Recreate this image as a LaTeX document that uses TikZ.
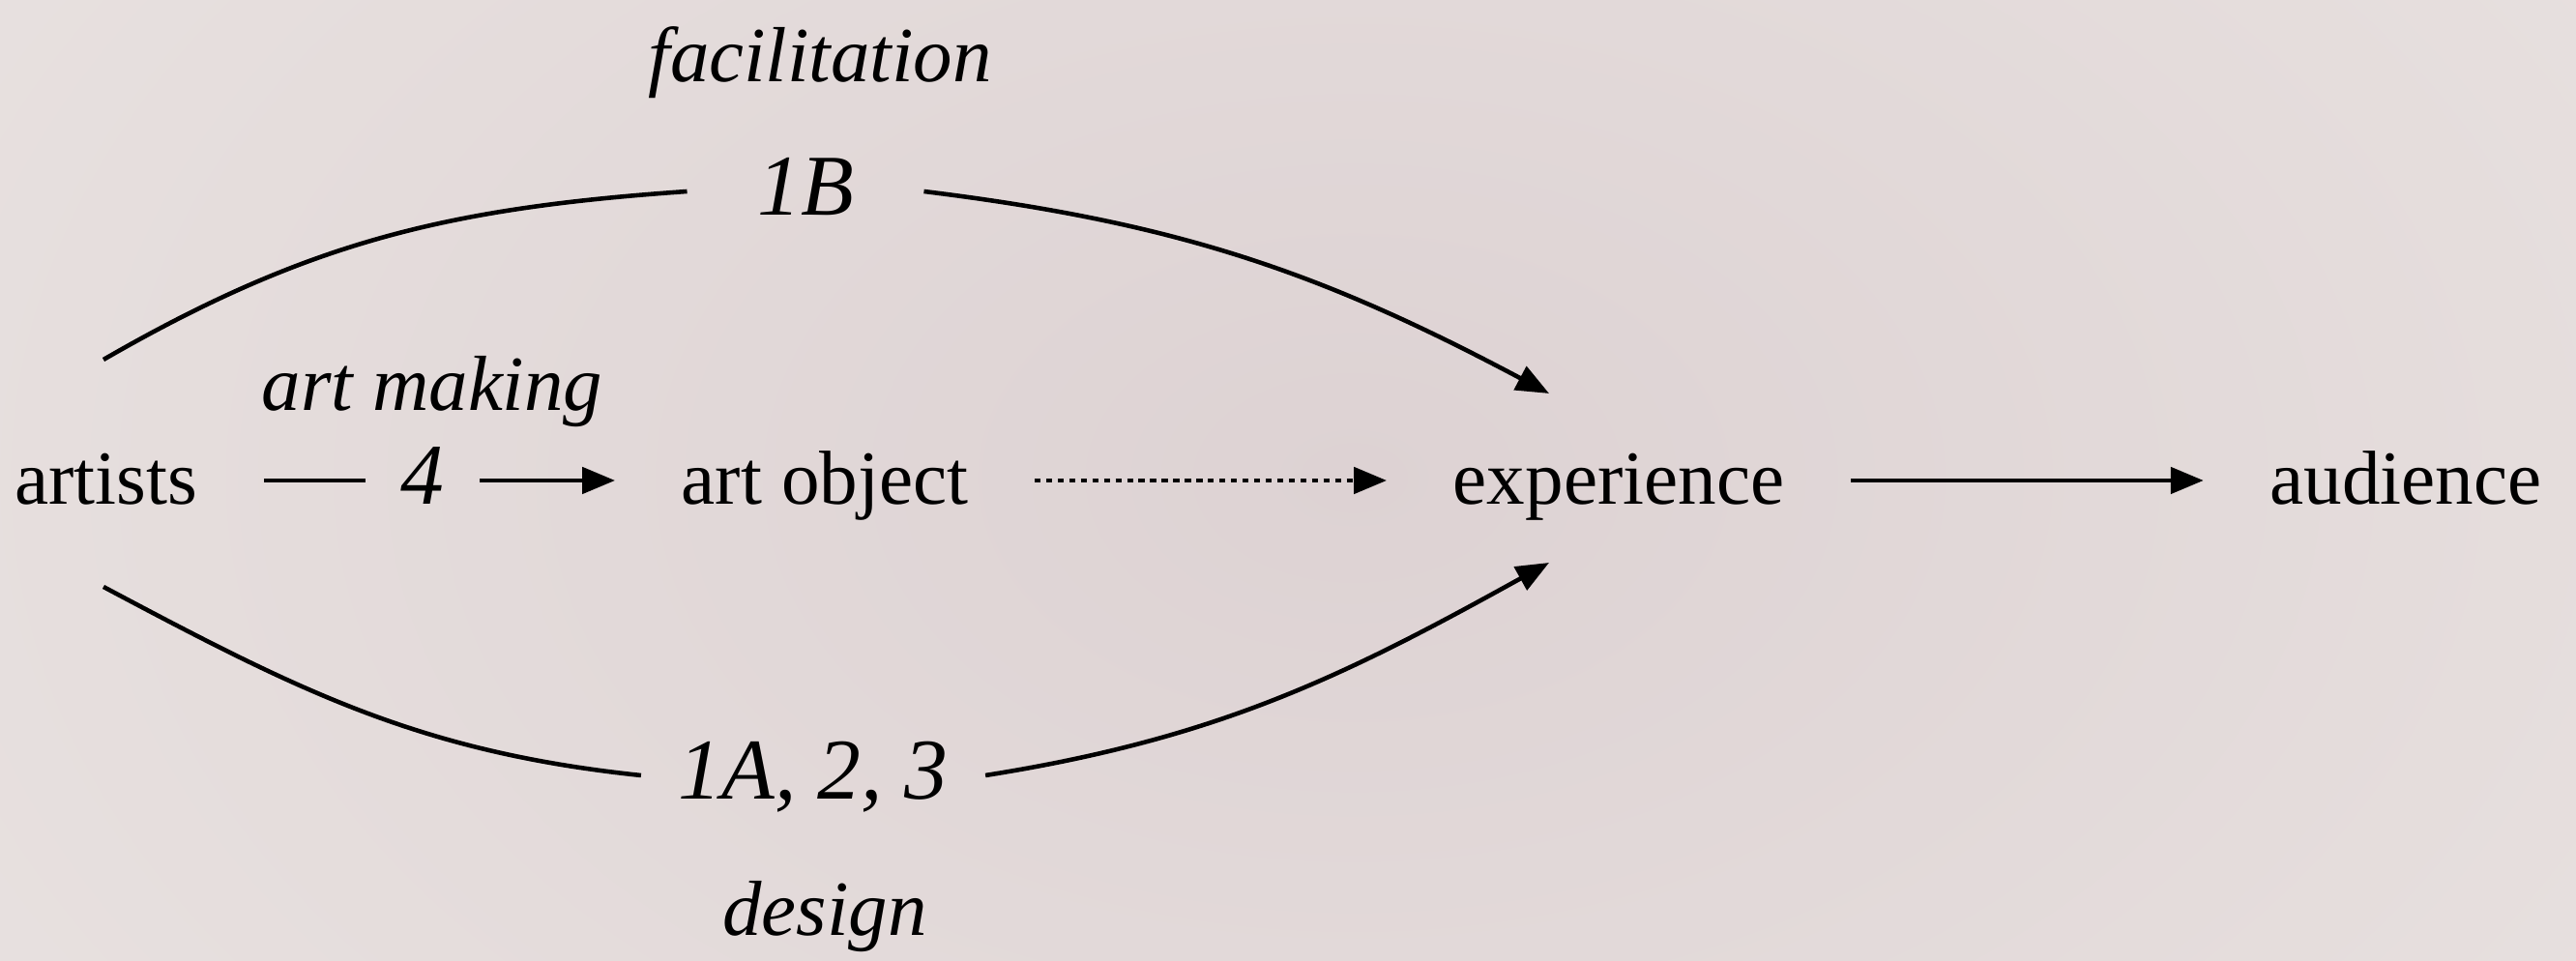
\documentclass[tikz,border=0pt]{standalone}
\usepackage{fontspec}
\setmainfont{Liberation Serif}
\usepackage{tikz}
\usetikzlibrary{arrows.meta}

\definecolor{bgedge}{HTML}{EAE4E2}
\definecolor{bgmid}{HTML}{DDD2D3}

\tikzset{
    term/.style={font=\fontsize{22.5}{27}\selectfont, anchor=base, inner ysep=0pt, inner xsep=0.68cm, text height=0.6cm, text depth=0.1cm},
    role/.style={font=\fontsize{23}{28}\itshape, anchor=base, inner sep=0pt},
    code/.style={font=\fontsize{25.5}{30}\itshape, anchor=base, inner ysep=0pt, text height=0.6cm, text depth=0.1cm},
    flow/.style={line width=1.4pt, -{Triangle[length=0.34cm,width=0.27cm]}},
    route/.style={line width=1.3pt}
}

\begin{document}
\begin{tikzpicture}
    % Background
    \useasboundingbox (0,0) rectangle (26.64,9.94);
    \shade[inner color=bgmid, outer color=bgedge] (-6,-8) rectangle (34,18);

    % Main row
    \node[term] (artists)    at (1.10,4.72)  {artists};
    \node[code, inner xsep=0.36cm] (four) at (4.37,4.72) {4};
    \node[term] (artobject)  at (8.53,4.72)  {art object};
    \node[term] (experience) at (16.74,4.72) {experience};
    \node[term] (audience)   at (24.88,4.72) {audience};

    % Routes through facilitation and design
    \node[code, inner xsep=0.72cm] (onebee) at (8.33,7.71) {1B};
    \node[code, inner xsep=0.38cm] (design) at (8.41,1.67) {1A, 2, 3};

    % Role labels
    \node[role] (facilitation) at (8.48,9.09) {facilitation};
    \node[role] (artmaking)    at (4.47,5.69) {art making};
    \node[role] (designing)    at (8.53,0.26) {design};

    % Free ends of the curved routes
    \coordinate (fromtop) at ([shift={(-0.03,1.25)}]artists.center);
    \coordinate (frombot) at ([shift={(-0.03,-1.10)}]artists.center);
    \coordinate (totop)   at ([shift={(-0.72,0.90)}]experience.center);
    \coordinate (tobot)   at ([shift={(-0.72,-0.85)}]experience.center);

    % Straight connectors
    \draw[route, line width=1.4pt] (artists) -- (four);
    \draw[flow] (four) -- (artobject);
    \draw[flow, dash pattern=on 1.8pt off 1.6pt] (artobject) -- (experience);
    \draw[flow] (experience) -- (audience);

    % Curved connectors
    \draw[route] (fromtop) to[out=30,in=184] (onebee.west);
    \draw[flow, line width=1.3pt] (onebee.east) to[out=-7,in=152] (totop);
    \draw[route] (frombot) to[out=-28,in=174] (design.west);
    \draw[flow, line width=1.3pt] (design.east) to[out=9,in=-151] (tobot);
\end{tikzpicture}
\end{document}
